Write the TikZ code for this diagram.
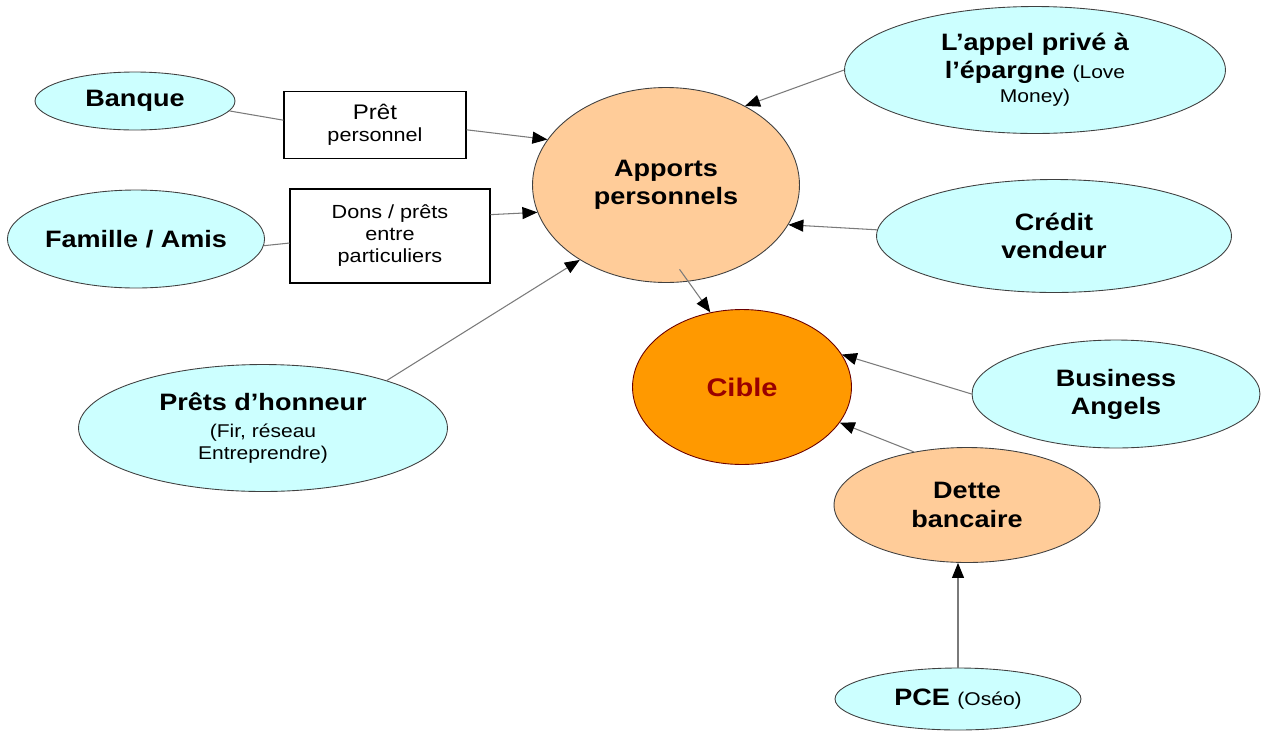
\documentclass[tikz,border=0pt]{standalone}
\usepackage{fontspec}
\setmainfont[FakeStretch=1.14]{Liberation Sans}
\usepackage{tikz}
\usetikzlibrary{shapes.geometric,arrows.meta}

\definecolor{cyanpale}{HTML}{CCFFFF}
\definecolor{peche}{HTML}{FFCC99}
\definecolor{orangecible}{HTML}{FF9900}
\definecolor{rougecible}{HTML}{990000}
\definecolor{trait}{HTML}{7A7A7A}

\newcommand\petit{\fontsize{10.5}{13}\mdseries\selectfont}

\begin{document}
\begin{tikzpicture}[x=0.02cm,y=-0.02cm,
    source/.style={ellipse,draw=black!75,line width=0.5pt,fill=cyanpale,inner sep=0pt,
        align=center,font=\fontsize{13.5}{16}\selectfont\bfseries},
    apport/.style={source,fill=peche},
    boite/.style={draw,line width=0.6pt,inner sep=0pt,align=center,
        font=\fontsize{10.8}{12.5}\selectfont},
    lien/.style={draw=trait,line width=0.6pt},
    fleche/.style={lien,-{Triangle[length=0.3cm,width=0.24cm,color=black]}}]

\useasboundingbox (0,0) rectangle (1268,731);

% sources de financement
\node [source,minimum width=4cm,minimum height=1.16cm] (banque) at (135,101) {Banque};
\node [source,minimum width=5.14cm,minimum height=1.96cm] (famille) at (136,239) {Famille / Amis};
\node [source,minimum width=7.38cm,minimum height=2.54cm] (honneur) at (263,428)
    {Prêts d’honneur\\[-1pt]\petit (Fir, réseau\\[-3.5pt]\petit Entreprendre)};
\node [source,minimum width=7.62cm,minimum height=2.54cm] (appel) at (1035,70)
    {L’appel privé à\\[-0.5pt]l’épargne {\petit (Love}\\[-2pt]\petit Money)};
\node [source,minimum width=7.1cm,minimum height=2.26cm] (credit) at (1054,236) {Crédit\\vendeur};
\node [source,minimum width=5.76cm,minimum height=2.16cm] (business) at (1116,394) {Business\\Angels};
\node [source,minimum width=4.92cm,minimum height=1.24cm] (pce) at (958,699) {PCE {\petit(Oséo)}};

% boites
\node [boite,minimum width=3.64cm,minimum height=1.34cm] (pret) at (375,125)
    {{\fontsize{12}{14}\selectfont Prêt}\\personnel};
\node [boite,minimum width=4cm,minimum height=1.88cm] (dons) at (390,236)
    {Dons / prêts\\entre\\particuliers};

% apports et cible
\node [apport,minimum width=5.34cm,minimum height=3.9cm] (apports) at (666,185) {Apports\\personnels};
\node [apport,minimum width=5.32cm,minimum height=2.3cm] (dette) at (967,505) {Dette\\bancaire};
\node [ellipse,draw=rougecible!70!black,line width=0.5pt,fill=orangecible,
    minimum width=4.38cm,minimum height=3.1cm,text=rougecible,
    font=\fontsize{14.5}{17}\selectfont\bfseries] (cible) at (742,387) {Cible};

% liens
\draw [lien] (banque.-6) -- (pret.177);
\draw [fleche] (pret.-3) -- (apports.159);
\draw [lien] (famille.-3) -- (dons.184);
\draw [fleche] (dons.12) -- (apports.192);
\draw [fleche] (honneur.21) -- (apports.221);
\draw [fleche] (appel.west) -- (apports.45);
\draw [fleche] (credit.178) -- (apports.-18);
\draw [fleche,shorten <=-0.3cm] (apports.-77) -- (cible.113);
\draw [fleche] (business.west) -- (cible.18);
\draw [fleche] (dette.135) -- (cible.-20);
\draw [fleche] (pce.north) -- (pce.north |- dette.south);
\end{tikzpicture}
\end{document}
